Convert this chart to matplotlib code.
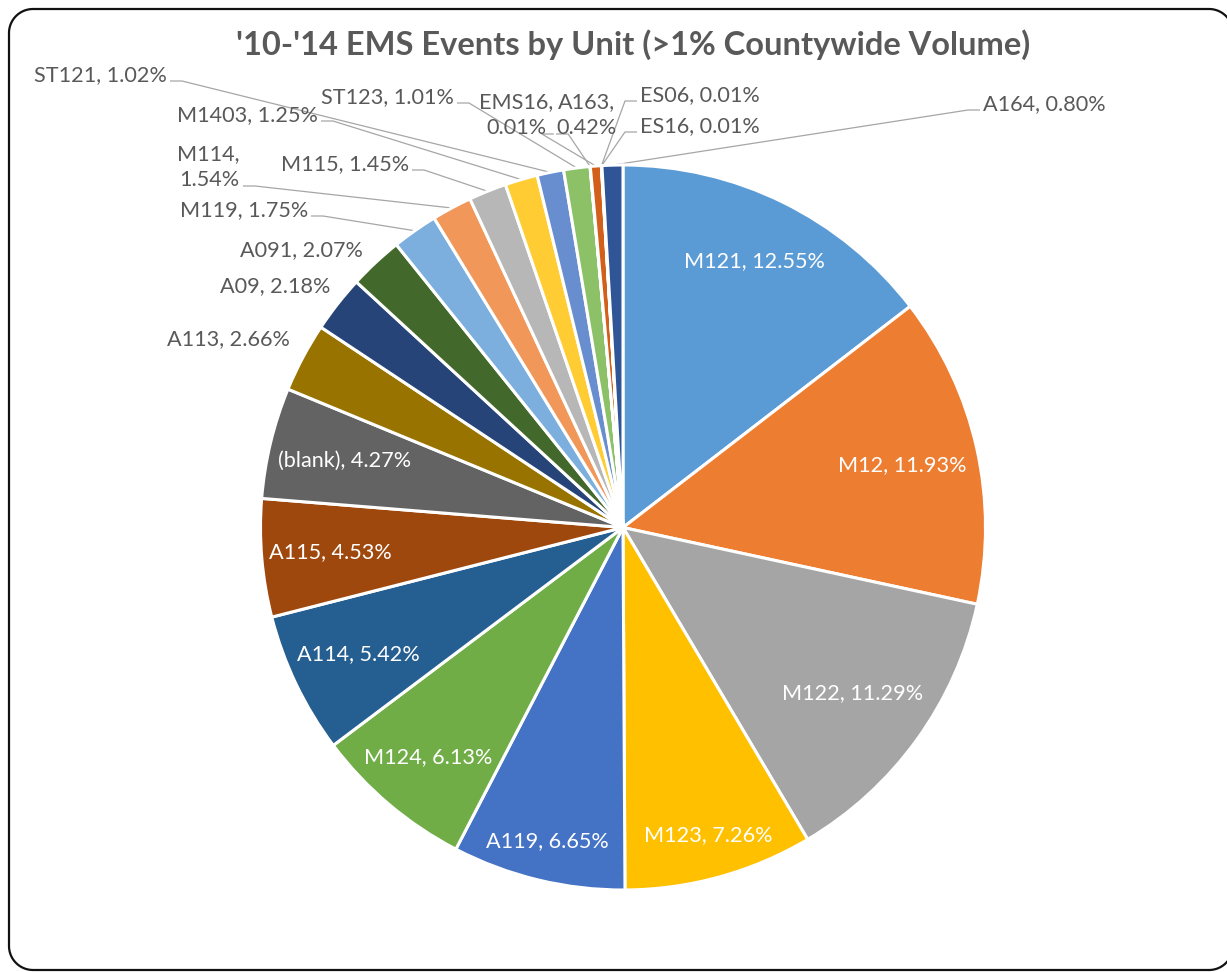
import numpy as np
import matplotlib
matplotlib.use('Agg')
import matplotlib.pyplot as plt
from matplotlib.lines import Line2D
from matplotlib.transforms import IdentityTransform

plt.rcParams['font.family'] = ['Lato', 'DejaVu Sans']

# units over 1% of countywide EMS volume, 2010-2014 (share of county total)
units = ['M121', 'M12', 'M122', 'M123', 'A119', 'M124', 'A114', 'A115', '(blank)',
         'A113', 'A09', 'A091', 'M119', 'M114', 'M115', 'M1403', 'ST121', 'ST123',
         'EMS16', 'A163', 'ES06', 'ES16', 'A164']
pct = [12.55, 11.93, 11.29, 7.26, 6.65, 6.13, 5.42, 4.53, 4.27,
       2.66, 2.18, 2.07, 1.75, 1.54, 1.45, 1.25, 1.02, 1.01,
       0.01, 0.42, 0.01, 0.01, 0.80]
title = "'10-'14 EMS Events by Unit (>1% Countywide Volume)"

colors = ['#5B9BD5', '#ED7D31', '#A5A5A5', '#FFC000', '#4472C4', '#70AD47',
          '#255E91', '#9E480E', '#636363', '#997300', '#264478', '#43682B',
          '#7CAFDD', '#F1975A', '#B7B7B7', '#FFCD33', '#698ED0', '#8CC168',
          '#327DC2', '#D2601A', '#7C7C7C', '#BF9000', '#2F5597']

W, H = 1227, 972
CX, CY, R = 623, 527.5, 362.5
TXT = '#595959'
LEAD = '#A6A6A6'
FS = 15.6


def P(x, y):
    # pixel position (from top-left) -> data units of the pie (radius 1)
    return (x - CX) / R, (CY - y) / R


def arc(cx, cy, r, a0, a1, n=20):
    t = np.deg2rad(np.linspace(a0, a1, n))
    return list(cx + r * np.cos(t)), list(cy + r * np.sin(t))


fig = plt.figure(figsize=(W / 100, H / 100), dpi=100)
ax = fig.add_axes([0, 0, 1, 1])

wedges, _ = ax.pie(pct, colors=colors, startangle=90, counterclock=False,
                   wedgeprops=dict(edgecolor='white', linewidth=2.2))
ax.set_xlim(-CX / R, (W - CX) / R)
ax.set_ylim(-(H - CY) / R, CY / R)
ax.set_aspect('equal')
ax.axis('off')

# rounded chart border in pixels (y up); its right side is cut off by the
# figure edge, so the right corners stop where they leave the canvas
bl, bt, br, bb_, rr = 9, H - 9, 1233, H - 970, 24
xs, ys = [], []
for cx, cy, a0, a1 in [(br - rr, bb_ + rr, -40, -90), (bl + rr, bb_ + rr, 270, 180),
                       (bl + rr, bt - rr, 180, 90), (br - rr, bt - rr, 90, 40)]:
    ax_, ay_ = arc(cx, cy, rr, a0, a1)
    xs += ax_
    ys += ay_
fig.add_artist(Line2D(xs, ys, color='#111111', lw=1.6,
                      transform=IdentityTransform()))

ax.text(*P(633, 55), title, ha='center', va='baseline', fontsize=23.5,
        fontweight='bold', color=TXT)

mid = {u: np.deg2rad((w.theta1 + w.theta2) / 2) for u, w in zip(units, wedges)}
labels = {}
for u, p in zip(units, pct):
    sep = '\n' if u in ('M114', 'EMS16', 'A163') else ' '
    labels[u] = f'{u},{sep}{p:.2f}%'

# white labels inside the larger slices
inner_r = {'M121': 0.82, 'M12': 0.79, 'M122': 0.78, 'M123': 0.88, 'A119': 0.89,
           'M124': 0.83, 'A114': 0.81, 'A115': 0.81, '(blank)': 0.79}
for u, r in inner_r.items():
    a = mid[u]
    ax.text(r * np.cos(a), r * np.sin(a), labels[u], ha='center', va='center',
            fontsize=FS, color='white')

# outside labels: anchor x, baseline y of last line, alignment, leader side
outside = {
    'A113': (290, 345, 'right', None),
    'A09': (330, 292, 'right', None),
    'A091': (363, 256, 'right', None),
    'M119': (308, 216, 'right', 'r'),
    'M114': (240, 186, 'right', 'r'),
    'M115': (409, 170, 'right', 'r'),
    'M1403': (318, 121, 'right', 'r'),
    'ST121': (167, 81, 'right', 'r'),
    'ST123': (454, 103, 'right', 'r'),
    'EMS16': (516, 134, 'center', 'r'),
    'A163': (587, 134, 'center', 'l'),
    'ES06': (640, 101, 'left', 'l'),
    'ES16': (640, 132, 'left', 'l'),
    'A164': (983, 110, 'left', 'l'),
}
texts = {}
for u, (x, y, ha, side) in outside.items():
    texts[u] = ax.text(*P(x, y), labels[u], ha=ha, va='baseline', fontsize=FS,
                       color=TXT, multialignment='center', linespacing=1.4)

fig.canvas.draw()
rend = fig.canvas.get_renderer()
inv = ax.transData.inverted()
for u, (x, y, ha, side) in outside.items():
    if side is None:
        continue
    bb = texts[u].get_window_extent(rend)
    if side == 'r':
        sx, step = bb.x1 + 3, 12
    else:
        sx, step = bb.x0 - 3, -12
    sy = bb.y0 + 4
    p0 = inv.transform((sx, sy))
    p1 = inv.transform((sx + step, sy))
    a = mid[u]
    ax.plot([p0[0], p1[0], np.cos(a)], [p0[1], p1[1], np.sin(a)],
            color=LEAD, lw=0.9, zorder=0.5, solid_capstyle='butt')

fig.savefig('out.png', dpi=100)
